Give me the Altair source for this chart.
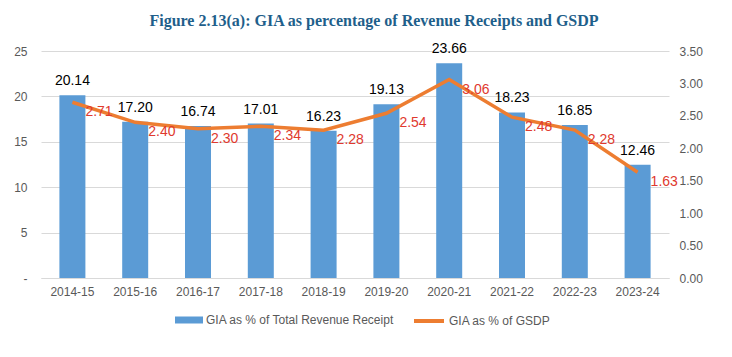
import altair as alt
import pandas as pd

years = ["2014-15", "2015-16", "2016-17", "2017-18", "2018-19",
         "2019-20", "2020-21", "2021-22", "2022-23", "2023-24"]
gia_rev = [20.14, 17.20, 16.74, 17.01, 16.23, 19.13, 23.66, 18.23, 16.85, 12.46]
gia_gsdp = [2.71, 2.40, 2.30, 2.34, 2.28, 2.54, 3.06, 2.48, 2.28, 1.63]
left_ticks = [0, 5, 10, 15, 20, 25]
right_ticks = [0, 0.5, 1.0, 1.5, 2.0, 2.5, 3.0, 3.5]
s1 = "GIA as % of Total Revenue Receipt"
s2 = "GIA as % of GSDP"

df = pd.DataFrame({"year": years, "rev": gia_rev, "gsdp": gia_gsdp,
                   "s1": [s1] * len(years), "s2": [s2] * len(years)})

FONT = "Liberation Sans"
GRAY = "#595959"

xenc = alt.X("year:N", sort=years, title=None,
             scale=alt.Scale(paddingInner=0.59, paddingOuter=0.295),
             axis=alt.Axis(labelAngle=0, ticks=False, domain=True, domainColor="#d9d9d9",
                           labelColor=GRAY, labelFontSize=12, labelFont=FONT, labelPadding=8))

lscale = alt.Scale(domain=[0, 25], nice=False, zero=True)
rscale = alt.Scale(domain=[0, 3.5], nice=False, zero=True)

yl = alt.Y("rev:Q", title=None, scale=lscale,
           axis=alt.Axis(values=left_ticks, grid=True, gridColor="#d9d9d9", domain=False,
                         ticks=False, labelColor=GRAY, labelFontSize=12, labelFont=FONT,
                         labelPadding=14, labelOverlap=False,
                         labelExpr="datum.value == 0 ? '-' : datum.label"))

bars = alt.Chart(df).mark_bar(size=26).encode(
    x=xenc, y=yl,
    fill=alt.Fill("s1:N", scale=alt.Scale(domain=[s1], range=["#5B9BD5"]),
                  legend=alt.Legend(title=None, orient="none", legendX=134, legendY=255,
                                    symbolType="M-1,-0.25H1V0.25H-1Z", symbolSize=784,
                                    labelFontSize=12, labelColor=GRAY, labelFont=FONT,
                                    labelLimit=0, labelOffset=3, padding=0,
                                    symbolStrokeWidth=0)))
bar_text = alt.Chart(df).mark_text(baseline="bottom", dy=-7, fontSize=14, font=FONT,
                                   color="#000000").encode(
    x=xenc, y=yl, text=alt.Text("rev:Q", format=".2f"))
left = alt.layer(bars, bar_text)

yr = alt.Y("gsdp:Q", title=None, scale=rscale,
           axis=alt.Axis(orient="right", values=right_ticks, format=".2f", grid=False,
                         domain=False, ticks=False, labelColor=GRAY, labelFontSize=12,
                         labelFont=FONT, labelPadding=10, labelOverlap=False))
line = alt.Chart(df).mark_line(strokeWidth=3.5).encode(
    x=xenc, y=yr,
    stroke=alt.Stroke("s2:N", scale=alt.Scale(domain=[s2], range=["#ED7D31"]),
                      legend=alt.Legend(title=None, orient="none", legendX=371, legendY=253,
                                        symbolType="stroke", symbolSize=900,
                                        symbolStrokeWidth=4, labelLimit=0, labelOffset=3,
                                        padding=0,
                                        labelFontSize=12, labelColor=GRAY, labelFont=FONT)))
line_text = alt.Chart(df).mark_text(align="left", baseline="middle", dx=13, dy=10,
                                    fontSize=14, font=FONT, color="#E0392E").encode(
    x=xenc, y=yr, text=alt.Text("gsdp:Q", format=".2f"))
right = alt.layer(line, line_text)

chart = alt.layer(left, right).resolve_scale(y="independent").properties(
    width=628, height=227,
    title=alt.TitleParams("Figure 2.13(a): GIA as percentage of Revenue Receipts and GSDP",
                          font="Liberation Serif", fontSize=16, fontWeight="bold",
                          color="#1F5F8B", offset=13, anchor="middle", dx=19),
).configure_view(stroke=None)

chart.save("out.html", embed_options={"renderer": "svg", "actions": False})
